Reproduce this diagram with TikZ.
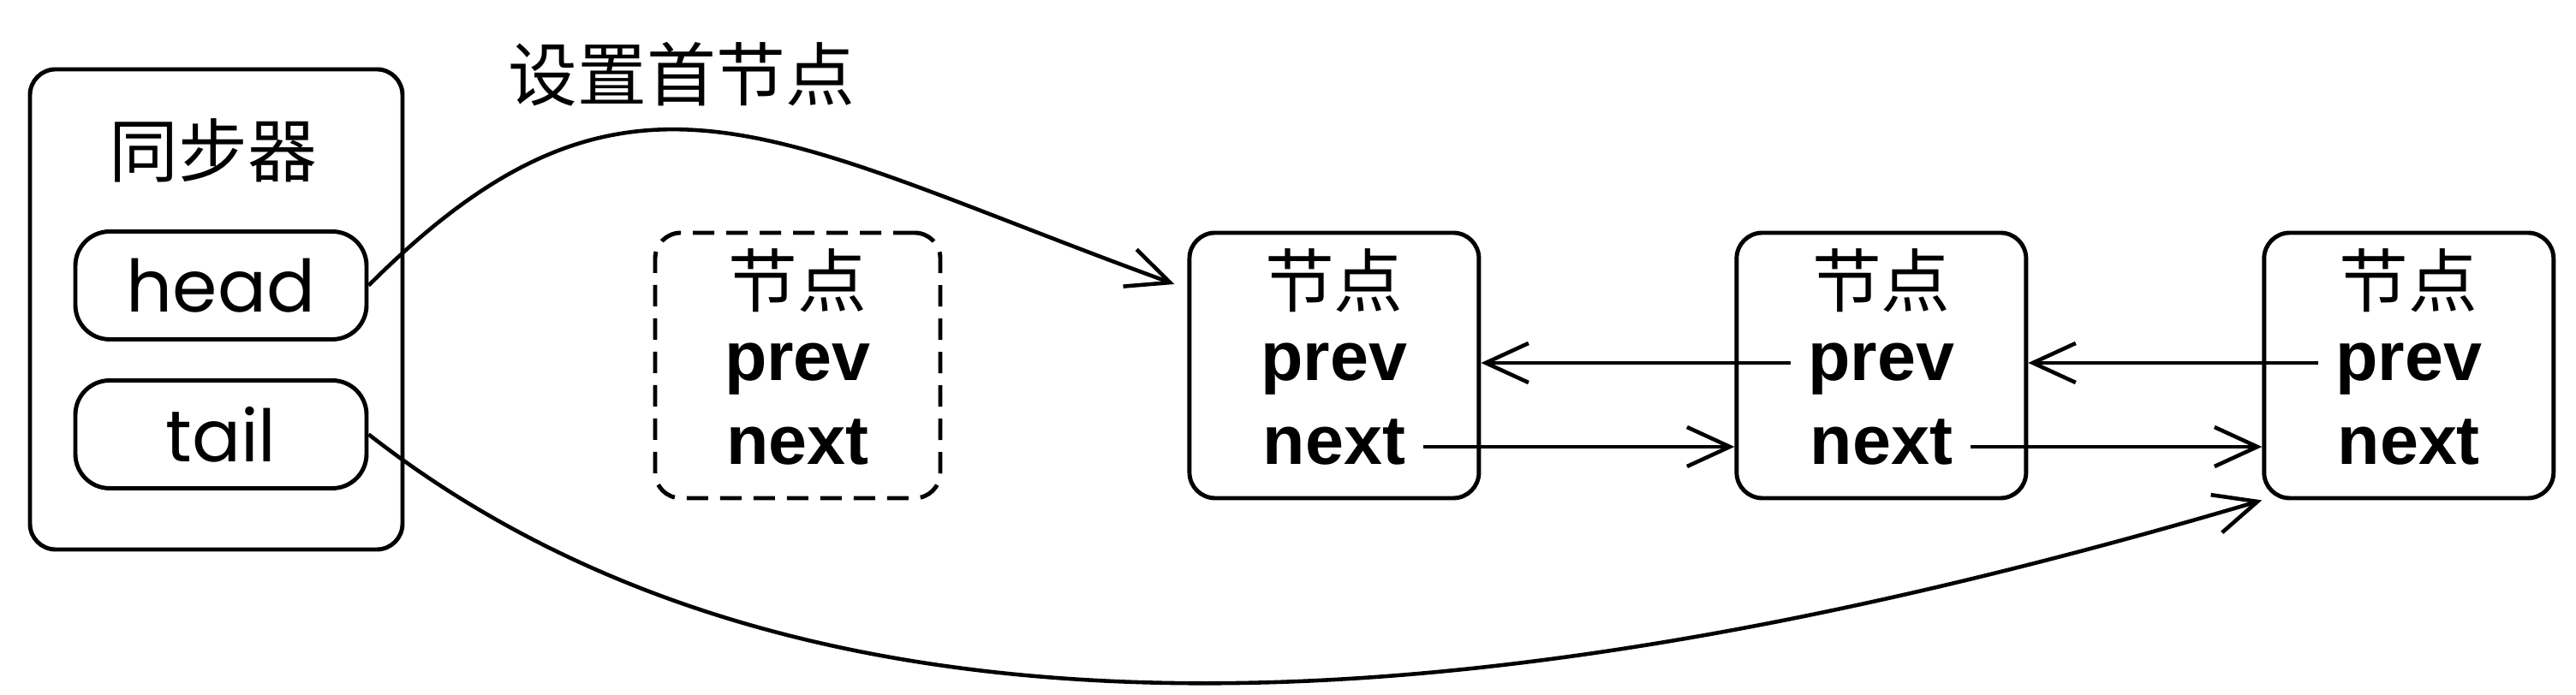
\documentclass[tikz,border=0pt]{standalone}
\usepackage{fontspec}
\setmainfont{Liberation Sans}
\newfontfamily\cjk{Noto Sans CJK SC}
\newfontfamily\geo{Poppins}
\usetikzlibrary{arrows.meta,positioning}

\begin{document}
\begin{tikzpicture}[
  sync/.style={rectangle, draw, line width=1.4pt, rounded corners=3mm, minimum width=4.35cm, minimum height=5.61cm},
  ptr/.style={rectangle, draw, line width=1.4pt, rounded corners=4mm, minimum width=3.4cm, minimum height=1.26cm, font=\geo\fontsize{24}{28}\selectfont},
  nd/.style={rectangle, draw, line width=1.4pt, rounded corners=3mm, minimum width=3.38cm, minimum height=3.1cm},
  ghost/.style={nd, dash pattern=on 2.5mm off 1.4mm, minimum width=3.33cm},
  title/.style={font=\cjk\fontsize{23}{27}\selectfont, anchor=base, inner sep=0pt},
  fld/.style={font=\bfseries\fontsize{23}{27}\selectfont, text height=5.7mm, text depth=1.5mm, inner sep=2mm},
  arr/.style={-{Straight Barb[length=5mm,width=4.6mm]}, line width=1.3pt}
]
\useasboundingbox (0,0) rectangle (30.08,8.12);

% synchronizer
\node[sync] (sync) at (2.525,4.505) {};
\node[title] (syncl) at (2.49,6.05) {同步器};
\node[ptr] (head) at (2.58,4.785) {head};
\node[ptr] (tail) at (2.58,3.045) {tail};

% queue nodes
\node[ghost] (g) at (9.315,3.85) {};
\node[nd, right=2.86cm of g]  (n1) {};
\node[nd, right=2.96cm of n1] (n2) {};
\node[nd, right=2.73cm of n2] (n3) {};

\node[title] (gt) at ([yshift=6.8mm]g.center) {节点};
\node[fld]   (gp) at ([yshift=0.3mm]g.center) {prev};
\node[fld]   (gn) at ([yshift=-9.5mm]g.center) {next};
\node[title] (n1t) at ([yshift=6.8mm]n1.center) {节点};
\node[fld]   (n1p) at ([yshift=0.3mm]n1.center) {prev};
\node[fld]   (n1n) at ([yshift=-9.5mm]n1.center) {next};
\node[title] (n2t) at ([yshift=6.8mm]n2.center) {节点};
\node[fld]   (n2p) at ([yshift=0.3mm]n2.center) {prev};
\node[fld]   (n2n) at ([yshift=-9.5mm]n2.center) {next};
\node[title] (n3t) at ([yshift=6.8mm]n3.center) {节点};
\node[fld]   (n3p) at ([yshift=0.3mm]n3.center) {prev};
\node[fld]   (n3n) at ([yshift=-9.5mm]n3.center) {next};

\node[title] (lbl) at (7.96,6.94) {设置首节点};

\draw[arr] (head.east) .. controls +(45:4.3) and +(160:5) .. ([xshift=-1.5mm,yshift=9.5mm]n1.west);
\draw[arr] (tail.east) .. controls +(-38:6.71) and +(196.5:9.12) .. (n3.south west);
\draw[arr] (n2p.west) -- (n2p.west -| n1.east);
\draw[arr] (n3p.west) -- (n3p.west -| n2.east);
\draw[arr] (n1n.east) -- (n1n.east -| n2.west);
\draw[arr] (n2n.east) -- (n2n.east -| n3.west);
\end{tikzpicture}
\end{document}
